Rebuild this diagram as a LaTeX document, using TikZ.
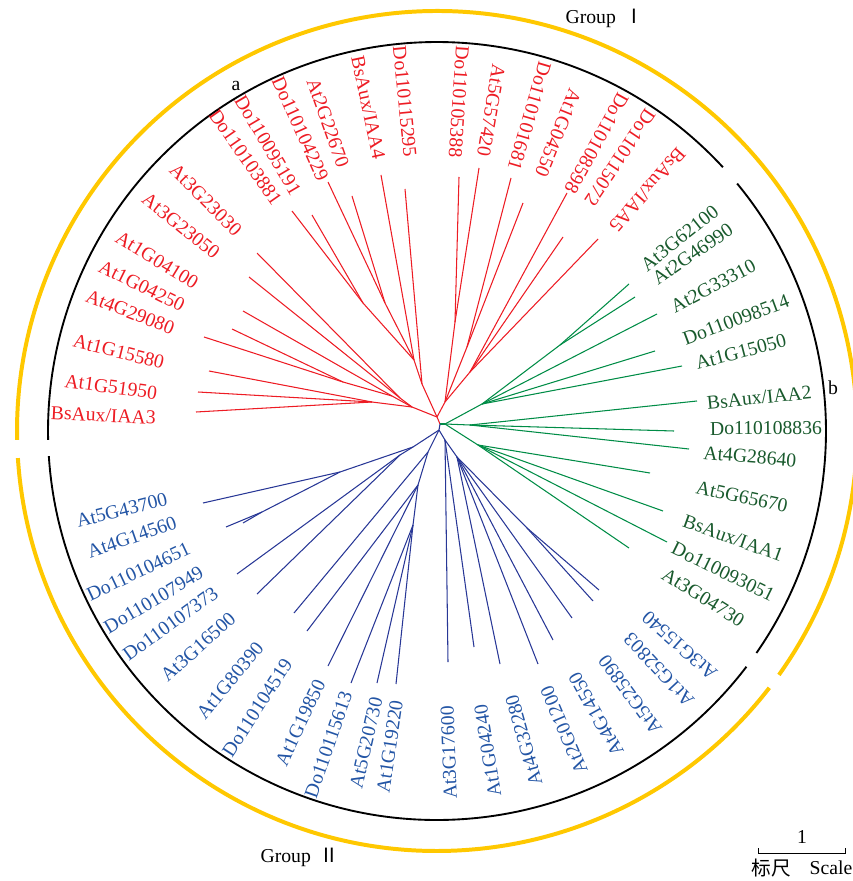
\documentclass[tikz,border=0pt]{standalone}
\usepackage{fontspec}
\setmainfont{Liberation Serif}
\newfontfamily\cjk{Noto Sans CJK SC}
\definecolor{treered}{RGB}{237,28,36}
\definecolor{greenline}{RGB}{0,140,70}
\definecolor{greentext}{RGB}{25,90,45}
\definecolor{blueline}{RGB}{40,55,150}
\definecolor{bluetext}{RGB}{35,85,165}
\definecolor{groupring}{RGB}{255,200,0}
\newcommand{\labfont}{\fontsize{16.8}{18}\selectfont}

\begin{document}
\begin{tikzpicture}[x=0.03cm, y=-0.03cm,
  redlab/.style={text=treered, font=\labfont, inner sep=0pt},
  greenlab/.style={text=greentext, font=\labfont, inner sep=0pt},
  bluelab/.style={text=bluetext, font=\labfont, inner sep=0pt},
  plainlab/.style={text=black, font=\labfont, inner sep=0pt},
  redbr/.style={draw=treered, line width=0.9pt},
  greenbr/.style={draw=greenline, line width=0.9pt},
  bluebr/.style={draw=blueline, line width=0.9pt},
  cladering/.style={draw=black, line width=1.6pt},
  groupband/.style={draw=groupring, line width=3.4pt}]
  \useasboundingbox (0,0) rectangle (852,881);

  % rings and labels round the centre
  \begin{scope}[shift={(437,431)}, y=0.03cm]
  \draw[cladering] (42.7:389) arc[start angle=42.7, end angle=181.3, radius=389];
  \draw[cladering] (-34.8:389) arc[start angle=-34.8, end angle=39.5, radius=389];
  \draw[cladering] (183.7:389) arc[start angle=183.7, end angle=322.7, radius=389];
  \draw[groupband] (-35.5:420) arc[start angle=-35.5, end angle=181.2, radius=420];
  \draw[groupband] (183.7:420) arc[start angle=183.7, end angle=322.3, radius=420];

  \node[redlab, rotate=357.3] (lr1) at (177.3:334) {BsAux/IAA3};
  \node[redlab, rotate=352.3] (lr2) at (172.3:329) {At1G51950};
  \node[redlab, rotate=346.0] (lr3) at (166.0:328) {At1G15580};
  \node[redlab, rotate=338.8] (lr4) at (158.8:329) {At4G29080};
  \node[redlab, rotate=333.8] (lr5) at (153.8:329) {At1G04250};
  \node[redlab, rotate=328.6] (lr6) at (148.6:328) {At1G04100};
  \node[redlab, rotate=321.3] (lr7) at (141.3:328) {At3G23050};
  \node[redlab, rotate=315.0] (lr8) at (135.0:327) {At3G23030};
  \node[redlab, rotate=305.0] (lr9) at (125.0:334) {Do110103881};
  \node[redlab, rotate=300.6] (lr10) at (120.6:332) {Do110095191};
  \node[redlab, rotate=294.3] (lr11) at (114.3:332) {Do110104229};
  \node[redlab, rotate=289.5] (lr12) at (109.5:327) {At2G22670};
  \node[redlab, rotate=282.0] (lr13) at (102.0:331) {BsAux/IAA4};
  \node[redlab, rotate=275.6] (lr14) at (95.6:331) {Do110115295};
  \node[redlab, rotate=266.2] (lr15) at (86.2:330) {Do110105388};
  \node[redlab, rotate=260.4] (lr16) at (80.4:325) {At5G57420};
  \node[redlab, rotate=253.6] (lr17) at (73.6:328) {Do110101681};
  \node[redlab, rotate=247.9] (lr18) at (67.9:322) {At1G04550};
  \node[redlab, rotate=241.0] (lr19) at (61.0:329) {Do110108598};
  \node[redlab, rotate=236.2] (lr20) at (56.2:329) {Do110115072};
  \node[redlab, rotate=228.9] (lr21) at (48.9:320) {BsAux/IAA5};

  \node[greenlab, rotate=38.5] (lg1) at (38.5:310) {At3G62100};
  \node[greenlab, rotate=34.7] (lg2) at (34.7:311) {At2G46990};
  \node[greenlab, rotate=27.7] (lg3) at (27.7:312) {At2G33310};
  \node[greenlab, rotate=20.4] (lg4) at (20.4:319) {Do110098514};
  \node[greenlab, rotate=14.6] (lg5) at (14.6:314) {At1G15050};
  \node[greenlab, rotate=5.9] (lg6) at (5.9:324) {BsAux/IAA2};
  \node[greenlab, rotate=0.5] (lg7) at (0.5:329) {Do110108836};
  \node[greenlab, rotate=-4.7] (lg8) at (-4.7:314) {At4G28640};
  \node[greenlab, rotate=-12.2] (lg9) at (-12.2:312) {At5G65670};
  \node[greenlab, rotate=-19.9] (lg10) at (-19.9:315) {BsAux/IAA1};
  \node[greenlab, rotate=-26.2] (lg11) at (-26.2:319) {Do110093051};
  \node[greenlab, rotate=-32.0] (lg12) at (-32.0:314) {At3G04730};

  \node[bluelab, rotate=138.5] (lb1) at (-41.5:324) {At3G15540};
  \node[bluelab, rotate=132.9] (lb2) at (-47.1:326) {At1G52803};
  \node[bluelab, rotate=126.2] (lb3) at (-53.8:327) {At5G25890};
  \node[bluelab, rotate=119.3] (lb4) at (-60.7:325) {At4G14550};
  \node[bluelab, rotate=113.0] (lb5) at (-67.0:325) {At2G01200};
  \node[bluelab, rotate=105.7] (lb6) at (-74.3:321) {At4G32280};
  \node[bluelab, rotate=99.0] (lb7) at (-81.0:324) {At1G04240};
  \node[bluelab, rotate=92.1] (lb8) at (-87.9:322) {At3G17600};
  \node[bluelab, rotate=81.5] (lb9) at (261.5:319) {At1G19220};
  \node[bluelab, rotate=77.2] (lb10) at (257.2:320) {At5G20730};
  \node[bluelab, rotate=70.9] (lb11) at (250.9:332) {Do110115613};
  \node[bluelab, rotate=64.9] (lb12) at (244.9:322) {At1G19850};
  \node[bluelab, rotate=57.0] (lb13) at (237.0:330) {Do110104519};
  \node[bluelab, rotate=50.3] (lb14) at (230.3:324) {At1G80390};
  \node[bluelab, rotate=42.1] (lb15) at (222.1:322) {At3G16500};
  \node[bluelab, rotate=35.9] (lb16) at (215.9:329) {Do110107373};
  \node[bluelab, rotate=30.8] (lb17) at (210.8:330) {Do110107949};
  \node[bluelab, rotate=25.2] (lb18) at (205.2:330) {Do110104651};
  \node[bluelab, rotate=19.2] (lb19) at (199.2:323) {At4G14560};
  \node[bluelab, rotate=14.1] (lb20) at (194.1:325) {At5G43700};
  \end{scope}

  % tree nodes
  \coordinate (hub) at (440,424);
  \coordinate (rr) at (437,417);
  \coordinate (ra) at (412,407);
  \coordinate (ra1) at (372,402);
  \coordinate (ra2) at (343,382);
  \coordinate (ra3) at (392,396);
  \coordinate (ra4) at (400,398);
  \coordinate (rm) at (422,384);
  \coordinate (rm1) at (414,360);
  \coordinate (rm2) at (385,303);
  \coordinate (rm3) at (363,303);
  \coordinate (rs) at (445,402);
  \coordinate (rs1) at (455,322);
  \coordinate (rs2) at (467,347);
  \coordinate (rs3) at (470,372);
  \coordinate (tr1) at (196,412);
  \coordinate (tr2) at (198,392);
  \coordinate (tr3) at (209,371);
  \coordinate (tr4) at (204,337);
  \coordinate (tr5) at (232,329);
  \coordinate (tr6) at (243,311);
  \coordinate (tr7) at (249,277);
  \coordinate (tr8) at (257,253);
  \coordinate (tr9) at (292,211);
  \coordinate (tr10) at (312,215);
  \coordinate (tr11) at (328,182);
  \coordinate (tr12) at (352,196);
  \coordinate (tr13) at (381,175);
  \coordinate (tr14) at (405,189);
  \coordinate (tr15) at (459,177);
  \coordinate (tr16) at (479,168);
  \coordinate (tr17) at (511,178);
  \coordinate (tr18) at (523,203);
  \coordinate (tr19) at (567,193);
  \coordinate (tr20) at (563,237);
  \coordinate (tr21) at (598,239);

  \coordinate (gr) at (445,424);
  \coordinate (g1) at (482,404);
  \coordinate (g1a) at (560,345);
  \coordinate (g2) at (470,425);
  \coordinate (g3) at (478,445);
  \coordinate (tg1) at (629,284);
  \coordinate (tg2) at (635,297);
  \coordinate (tg3) at (657,314);
  \coordinate (tg4) at (655,351);
  \coordinate (tg5) at (682,366);
  \coordinate (tg6) at (697,401);
  \coordinate (tg7) at (674,431);
  \coordinate (tg8) at (689,449);
  \coordinate (tg9) at (650,473);
  \coordinate (tg10) at (663,511);
  \coordinate (tg11) at (667,542);
  \coordinate (tg12) at (629,548);

  \coordinate (br) at (439,430);
  \coordinate (bn1) at (413,447);
  \coordinate (bn2) at (340,472);
  \coordinate (bn3) at (262,512);
  \coordinate (bn4) at (400,455);
  \coordinate (bn5) at (428,452);
  \coordinate (bn6) at (418,485);
  \coordinate (bn7) at (413,525);
  \coordinate (bn8) at (445,440);
  \coordinate (bn9) at (457,457);
  \coordinate (bn10) at (527,528);
  \coordinate (tb1) at (203,503);
  \coordinate (tb2) at (226,527);
  \coordinate (tb3) at (243,523);
  \coordinate (tb4) at (237,574);
  \coordinate (tb5) at (257,594);
  \coordinate (tb6) at (294,613);
  \coordinate (tb7) at (307,631);
  \coordinate (tb8) at (328,666);
  \coordinate (tb9) at (351,683);
  \coordinate (tb10) at (377,683);
  \coordinate (tb11) at (396,684);
  \coordinate (tb12) at (448,662);
  \coordinate (tb13) at (474,647);
  \coordinate (tb14) at (500,664);
  \coordinate (tb15) at (538,664);
  \coordinate (tb16) at (553,640);
  \coordinate (tb17) at (572,618);
  \coordinate (tb18) at (593,601);
  \coordinate (tb19) at (599,590);

  % branches
  \draw[redbr] (hub) -- (rr);
  \draw[redbr] (rr) -- (ra);
  \draw[redbr] (rr) -- (rm);
  \draw[redbr] (rr) -- (rs);
  \draw[redbr] (ra) -- (ra1);
  \draw[redbr] (ra1) -- (tr1);
  \draw[redbr] (ra1) -- (tr2);
  \draw[redbr] (ra1) -- (tr3);
  \draw[redbr] (ra) -- (ra3);
  \draw[redbr] (ra3) -- (ra2);
  \draw[redbr] (ra2) -- (tr4);
  \draw[redbr] (ra2) -- (tr5);
  \draw[redbr] (ra3) -- (tr6);
  \draw[redbr] (ra) -- (ra4);
  \draw[redbr] (ra4) -- (tr7);
  \draw[redbr] (ra4) -- (tr8);
  \draw[redbr] (rm) -- (tr14);
  \draw[redbr] (rm) -- (rm1);
  \draw[redbr] (rm1) -- (tr13);
  \draw[redbr] (rm1) -- (rm2);
  \draw[redbr] (rm2) -- (tr11);
  \draw[redbr] (rm2) -- (tr12);
  \draw[redbr] (rm1) -- (rm3);
  \draw[redbr] (rm3) -- (tr9);
  \draw[redbr] (rm3) -- (tr10);
  \draw[redbr] (rs) -- (rs1);
  \draw[redbr] (rs1) -- (tr15);
  \draw[redbr] (rs1) -- (tr16);
  \draw[redbr] (rs) -- (rs2);
  \draw[redbr] (rs2) -- (tr17);
  \draw[redbr] (rs2) -- (tr18);
  \draw[redbr] (rs) -- (rs3);
  \draw[redbr] (rs3) -- (tr19);
  \draw[redbr] (rs3) -- (tr20);
  \draw[redbr] (rs3) -- (tr21);

  \draw[greenbr] (hub) -- (gr);
  \draw[greenbr] (gr) -- (g1);
  \draw[greenbr] (g1) -- (g1a);
  \draw[greenbr] (g1a) -- (tg1);
  \draw[greenbr] (g1a) -- (tg2);
  \draw[greenbr] (g1) -- (tg3);
  \draw[greenbr] (g1) -- (tg4);
  \draw[greenbr] (g1) -- (tg5);
  \draw[greenbr] (gr) -- (g2);
  \draw[greenbr] (g2) -- (tg6);
  \draw[greenbr] (g2) -- (tg7);
  \draw[greenbr] (g2) -- (tg8);
  \draw[greenbr] (gr) -- (g3);
  \draw[greenbr] (g3) -- (tg9);
  \draw[greenbr] (g3) -- (tg10);
  \draw[greenbr] (g3) -- (tg11);
  \draw[greenbr] (g3) -- (tg12);

  \draw[bluebr] (hub) -- (br);
  \draw[bluebr] (br) -- (bn1);
  \draw[bluebr] (bn1) -- (bn2);
  \draw[bluebr] (bn2) -- (tb1);
  \draw[bluebr] (bn2) -- (bn3);
  \draw[bluebr] (bn3) -- (tb2);
  \draw[bluebr] (bn3) -- (tb3);
  \draw[bluebr] (bn1) -- (bn4);
  \draw[bluebr] (bn4) -- (tb4);
  \draw[bluebr] (bn4) -- (tb5);
  \draw[bluebr] (br) -- (bn5);
  \draw[bluebr] (bn5) -- (tb6);
  \draw[bluebr] (bn5) -- (bn6);
  \draw[bluebr] (bn6) -- (tb7);
  \draw[bluebr] (bn6) -- (tb8);
  \draw[bluebr] (bn6) -- (bn7);
  \draw[bluebr] (bn7) -- (tb9);
  \draw[bluebr] (bn7) -- (tb10);
  \draw[bluebr] (bn7) -- (tb11);
  \draw[bluebr] (br) -- (bn8);
  \draw[bluebr] (bn8) -- (tb12);
  \draw[bluebr] (bn8) -- (tb13);
  \draw[bluebr] (bn8) -- (bn9);
  \draw[bluebr] (bn9) -- (tb14);
  \draw[bluebr] (bn9) -- (tb15);
  \draw[bluebr] (bn9) -- (tb16);
  \draw[bluebr] (bn9) -- (tb17);
  \draw[bluebr] (bn9) -- (bn10);
  \draw[bluebr] (bn10) -- (tb18);
  \draw[bluebr] (bn10) -- (tb19);

  % clade marks, group names, scale
  \node[plainlab] (mark-a) at (236,86) {a};
  \node[plainlab] (mark-b) at (833,388) {b};
  \node[plainlab] (group1) at (605,18) {Group\hspace{0.45em}{\cjk Ⅰ}};
  \node[plainlab] (group2) at (300,857) {Group\hspace{0.45em}{\cjk Ⅱ}};
  \coordinate (sl) at (758,853);
  \coordinate (sr) at (845,853);
  \draw[line width=0.8pt] (sl) ++(0,-5) -- (sl) -- (sr) -- ++(0,-5);
  \node[plainlab] (scale-one) at (802,837) {1};
  \node[plainlab] (scale-cn) at (771,868) {\cjk 标尺};
  \node[plainlab] (scale-en) at (831,868) {Scale};
\end{tikzpicture}
\end{document}
